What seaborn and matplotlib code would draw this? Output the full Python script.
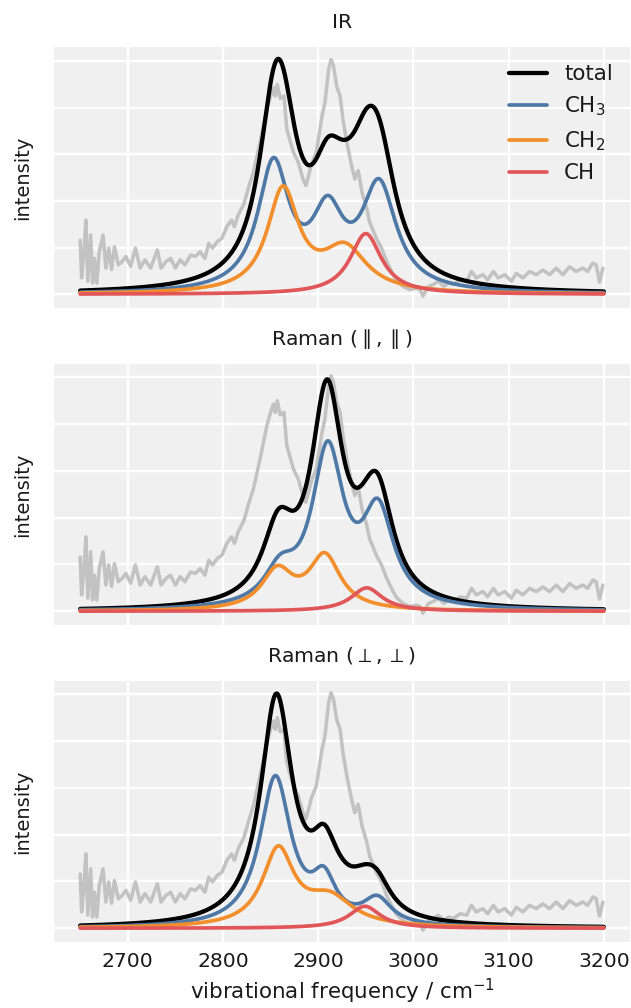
import numpy as np
import pandas as pd
import matplotlib
matplotlib.use("Agg")
import matplotlib.pyplot as plt
import seaborn as sns
from matplotlib.ticker import MultipleLocator

# ---------------- data ----------------
# experimental spectrum (grey), read off the picture
exp_wn = [2650, 2651.5, 2654, 2656, 2658, 2661, 2663, 2665, 2667.5, 2670, 2674, 2677,
          2680, 2683, 2686, 2690, 2694, 2698, 2703, 2708, 2713, 2718, 2724, 2731,
          2735, 2740, 2745, 2750, 2755, 2760, 2766, 2771, 2776, 2781, 2785, 2789,
          2794, 2799, 2804, 2809, 2812, 2816, 2822, 2827, 2832, 2839, 2846, 2850,
          2853, 2855, 2857, 2860, 2864, 2867, 2874, 2879, 2884, 2887, 2890, 2893,
          2898, 2904, 2907, 2911, 2913.5, 2916, 2919.5, 2923, 2926, 2930, 2935,
          2938.5, 2942, 2946, 2951, 2954, 2961, 2966.5, 2972, 2977, 2982, 2989,
          2996, 3003, 3007, 3010, 3016, 3021, 3026, 3032, 3037, 3042, 3049, 3056,
          3061, 3066, 3073, 3078, 3084, 3089, 3096, 3103, 3108, 3115, 3122, 3129,
          3136, 3143, 3150, 3157, 3164, 3171, 3178, 3183, 3188.5, 3192, 3195.5, 3199]
exp_int = [1.16, 0.35, 0.91, 1.59, 0.28, 1.27, 0.24, 0.77, 0.24, 0.91, 1.27, 0.56,
           0.99, 0.53, 1.02, 0.63, 0.70, 0.81, 0.60, 0.99, 0.56, 0.74, 0.56, 0.95,
           0.56, 0.70, 0.77, 0.56, 0.74, 0.63, 0.84, 0.81, 0.91, 0.77, 1.09, 0.99,
           1.13, 1.20, 1.45, 1.59, 1.45, 1.70, 1.94, 2.30, 2.62, 3.26, 3.96, 4.25,
           4.43, 4.25, 4.50, 4.20, 4.25, 3.54, 3.04, 2.83, 2.47, 2.33, 2.55, 2.79,
           3.04, 3.82, 4.10, 4.82, 5.03, 4.90, 4.45, 4.25, 3.75, 3.26, 2.76,
           2.47, 2.65, 2.19, 1.84, 1.55, 1.20, 0.99, 0.70, 0.49, 0.30, 0.17,
           0.10, 0.13, 0.10, -0.04, 0.17, 0.21, 0.28, 0.17, 0.24, 0.21, 0.31, 0.28,
           0.49, 0.35, 0.42, 0.31, 0.49, 0.35, 0.42, 0.28, 0.45, 0.35, 0.49, 0.42,
           0.52, 0.42, 0.56, 0.42, 0.59, 0.49, 0.56, 0.49, 0.67, 0.63, 0.26, 0.56]

# Lorentzian bands: [centre / cm-1, height, half width]
ir_ch3 = [[2853, 2.68, 20], [2910, 1.51, 20], [2964, 2.21, 22]]
ir_ch2 = [[2863, 2.18, 20], [2928, 0.92, 28]]
ir_ch = [[2950, 1.30, 20]]

rpar_ch3 = [[2860, 0.69, 20], [2910, 3.30, 20], [2963, 1.97, 20]]
rpar_ch2 = [[2857, 0.82, 20], [2907, 1.14, 20]]
rpar_ch = [[2951, 0.50, 20]]

rperp_ch3 = [[2855, 3.18, 20], [2906, 0.85, 15], [2962, 0.54, 18]]
rperp_ch2 = [[2858, 1.62, 20], [2912, 0.60, 30]]
rperp_ch = [[2949, 0.47, 20]]

panel_titles = ["IR", r"Raman ($\parallel,\parallel$)", r"Raman ($\perp,\perp$)"]
series_labels = ["total", r"CH$_3$", r"CH$_2$", "CH"]
series_colors = ["black", "#4e79a7", "#f28e2b", "#e15759"]
x_ticks = [2700, 2800, 2900, 3000, 3100, 3200]
panels = [(ir_ch3, ir_ch2, ir_ch), (rpar_ch3, rpar_ch2, rpar_ch),
          (rperp_ch3, rperp_ch2, rperp_ch)]


def lorentz(x, bands):
    y = np.zeros_like(x)
    for c, h, g in bands:
        y = y + h / (1.0 + ((x - c) / g) ** 2)
    return y


# ---------------- style ----------------
sns.set_theme(style="darkgrid", rc={
    "axes.facecolor": "#f0f0f0",
    "grid.color": "white",
    "grid.linewidth": 1.2,
    "text.color": "0.1",
    "axes.labelcolor": "0.1",
    "xtick.color": "0.1",
    "ytick.color": "0.1",
})
plt.rcParams["font.family"] = ["DejaVu Sans"]
plt.rcParams["font.size"] = 10

fig = plt.figure(figsize=(631 / 140, 1008 / 140), dpi=140)
W, H = 631.0, 1008.0
left, right = 54 / W, 630 / W
tops = [47, 364, 681]
ph = 261

xs = np.linspace(2650, 3200, 1101)
exp_df = pd.DataFrame({"wn": exp_wn, "I": exp_int})

axes = []
for i, (ch3, ch2, ch) in enumerate(panels):
    ax = fig.add_axes([left, 1 - (tops[i] + ph) / H, right - left, ph / H])
    axes.append(ax)
    sns.lineplot(data=exp_df, x="wn", y="I", ax=ax, color="#c2c2c2", lw=1.8,
                 sort=False, zorder=1)
    comps = [lorentz(xs, ch3), lorentz(xs, ch2), lorentz(xs, ch)]
    total = comps[0] + comps[1] + comps[2]
    curves = [total] + comps
    for k, yv in enumerate(curves):
        sns.lineplot(x=xs, y=yv, ax=ax, color=series_colors[k],
                     lw=2.2 if k == 0 else 1.9,
                     label=series_labels[k] if i == 0 else None,
                     zorder=2 + k)
    ax.set_title(panel_titles[i], fontsize=10.5, pad=10)
    ax.set_ylabel("intensity", fontsize=10, labelpad=11)
    ax.set_xticks(x_ticks)
    ax.yaxis.set_major_locator(MultipleLocator(1))
    ax.tick_params(labelleft=False, labelsize=10.5, length=0, pad=5)
    ax.set_xlim(2622.5, 3227.5)
    if i < 2:
        ax.tick_params(labelbottom=False)
        ax.set_xlabel("")
    else:
        ax.set_xlabel(r"vibrational frequency / cm$^{-1}$", fontsize=11, labelpad=3)
    for s in ax.spines.values():
        s.set_visible(False)

leg = axes[0].legend(loc="upper right", frameon=False, fontsize=11,
                     handlelength=1.8, borderaxespad=0.4)

fig.savefig("out.png", dpi=140)
